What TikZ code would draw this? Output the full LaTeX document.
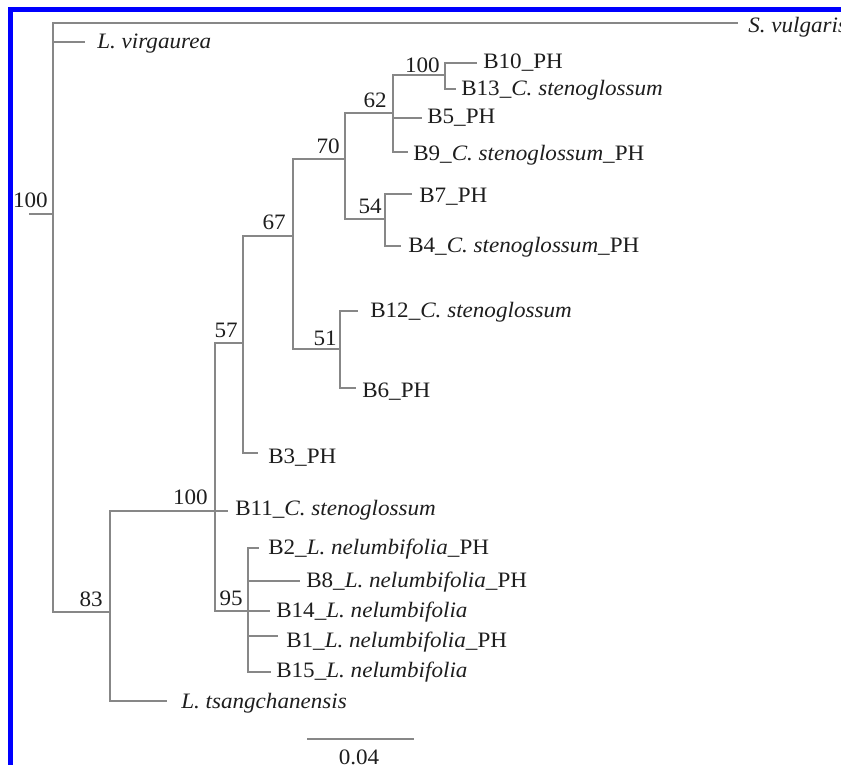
\documentclass[tikz,border=0pt]{standalone}
\usepackage{fontspec}
\setmainfont{Liberation Serif}[FakeStretch=1.05]
\definecolor{treegray}{RGB}{135,135,135}
\definecolor{inkblack}{RGB}{30,30,30}
\definecolor{frameblue}{RGB}{0,0,255}
\newcommand{\spname}[1]{\textit{#1}}
\begin{document}
\begin{tikzpicture}[x=0.75pt,y=-0.75pt,
  branch/.style={draw=treegray,line width=1.1pt},
  taxon/.style={anchor=base west,inner sep=0pt,text=inkblack,font=\fontsize{16.5pt}{19pt}\selectfont},
  support/.style={anchor=base east,inner sep=0pt,text=inkblack,font=\fontsize{16.5pt}{19pt}\selectfont}]
\useasboundingbox (0,0) rectangle (841,764);
\clip (0,0) rectangle (841,764);
\fill[white] (0,0) rectangle (841,764);
\draw[frameblue,line width=3.75pt] (10.5,9.5) rectangle (900,850);

% internal nodes (vertical line x, incoming branch y)
\coordinate (rstub) at (29,214);
\coordinate (root)  at (53,214);
\coordinate (n83)   at (110,612);
\coordinate (n100b) at (215,511);
\coordinate (n57)   at (243,343);
\coordinate (n67)   at (293,236);
\coordinate (n70)   at (345,159);
\coordinate (n62)   at (393,113);
\coordinate (n100a) at (445,75);
\coordinate (n54)   at (385,219);
\coordinate (n51)   at (340,349);
\coordinate (n95)   at (248,611);

% tips of terminal branches
\coordinate (tSvul)  at (738,23);
\coordinate (tLvir)  at (85,42);
\coordinate (tLtsa)  at (167,701);
\coordinate (tB11)   at (228,511);
\coordinate (tB3)    at (258,453);
\coordinate (tB12)   at (358,311);
\coordinate (tB6)    at (356,388);
\coordinate (tB10)   at (477,63);
\coordinate (tB13)   at (456,89);
\coordinate (tB5)    at (422,118);
\coordinate (tB9)    at (408,152);
\coordinate (tB7)    at (412,194);
\coordinate (tB4)    at (401,246);
\coordinate (tB2)    at (259,548);
\coordinate (tB8)    at (300,581);
\coordinate (tB14)   at (270,611);
\coordinate (tB1)    at (278,636);
\coordinate (tB15)   at (271,672);

% branches
\draw[branch] (rstub) -- (root);
\draw[branch] (root) |- (tSvul);
\draw[branch] (root) |- (tLvir);
\draw[branch] (root) |- (n83);
\draw[branch] (n83) |- (n100b);
\draw[branch] (n83) |- (tLtsa);
\draw[branch] (n100b) |- (n57);
\draw[branch] (n100b) |- (tB11);
\draw[branch] (n100b) |- (n95);
\draw[branch] (n57) |- (n67);
\draw[branch] (n57) |- (tB3);
\draw[branch] (n67) |- (n70);
\draw[branch] (n67) |- (n51);
\draw[branch] (n70) |- (n62);
\draw[branch] (n70) |- (n54);
\draw[branch] (n62) |- (n100a);
\draw[branch] (n62) |- (tB5);
\draw[branch] (n62) |- (tB9);
\draw[branch] (n100a) |- (tB10);
\draw[branch] (n100a) |- (tB13);
\draw[branch] (n54) |- (tB7);
\draw[branch] (n54) |- (tB4);
\draw[branch] (n51) |- (tB12);
\draw[branch] (n51) |- (tB6);
\draw[branch] (n95) |- (tB2);
\draw[branch] (n95) |- (tB8);
\draw[branch] (n95) |- (tB14);
\draw[branch] (n95) |- (tB1);
\draw[branch] (n95) |- (tB15);

% taxon labels
\node[taxon] (Svul) at (748,32)  {\spname{S. vulgaris}};
\node[taxon] (Lvir) at (97,48)   {\spname{L. virgaurea}};
\node[taxon] (B10)  at (483,68)  {B10\_PH};
\node[taxon] (B13)  at (461,95)  {B13\_\spname{C. stenoglossum}};
\node[taxon] (B5)   at (427,123) {B5\_PH};
\node[taxon] (B9)   at (413,160) {B9\_\spname{C. stenoglossum}\_PH};
\node[taxon] (B7)   at (419,202) {B7\_PH};
\node[taxon] (B4)   at (408,252) {B4\_\spname{C. stenoglossum}\_PH};
\node[taxon] (B12)  at (370,317) {B12\_\spname{C. stenoglossum}};
\node[taxon] (B6)   at (362,397) {B6\_PH};
\node[taxon] (B3)   at (268,463) {B3\_PH};
\node[taxon] (B11)  at (235,515) {B11\_\spname{C. stenoglossum}};
\node[taxon] (B2)   at (268,554) {B2\_\spname{L. nelumbifolia}\_PH};
\node[taxon] (B8)   at (306,587) {B8\_\spname{L. nelumbifolia}\_PH};
\node[taxon] (B14)  at (276,617) {B14\_\spname{L. nelumbifolia}};
\node[taxon] (B1)   at (286,647) {B1\_\spname{L. nelumbifolia}\_PH};
\node[taxon] (B15)  at (276,677) {B15\_\spname{L. nelumbifolia}};
\node[taxon] (Ltsa) at (181,708) {\spname{L. tsangchanensis}};

% bootstrap support values
\node[support] (s100r) at (48,207)  {100};
\node[support] (s83)   at (103,606) {83};
\node[support] (s100b) at (208,504) {100};
\node[support] (s57)   at (238,337) {57};
\node[support] (s67)   at (286,229) {67};
\node[support] (s70)   at (340,153) {70};
\node[support] (s62)   at (387,107) {62};
\node[support] (s100a) at (440,72)  {100};
\node[support] (s54)   at (382,213) {54};
\node[support] (s51)   at (337,345) {51};
\node[support] (s95)   at (243,605) {95};

% scale bar
\coordinate (barL) at (307,739);
\coordinate (barR) at (414,739);
\draw[branch] (barL) -- (barR);
\node[support,anchor=base] (barlabel) at (359,764) {0.04};
\end{tikzpicture}
\end{document}
